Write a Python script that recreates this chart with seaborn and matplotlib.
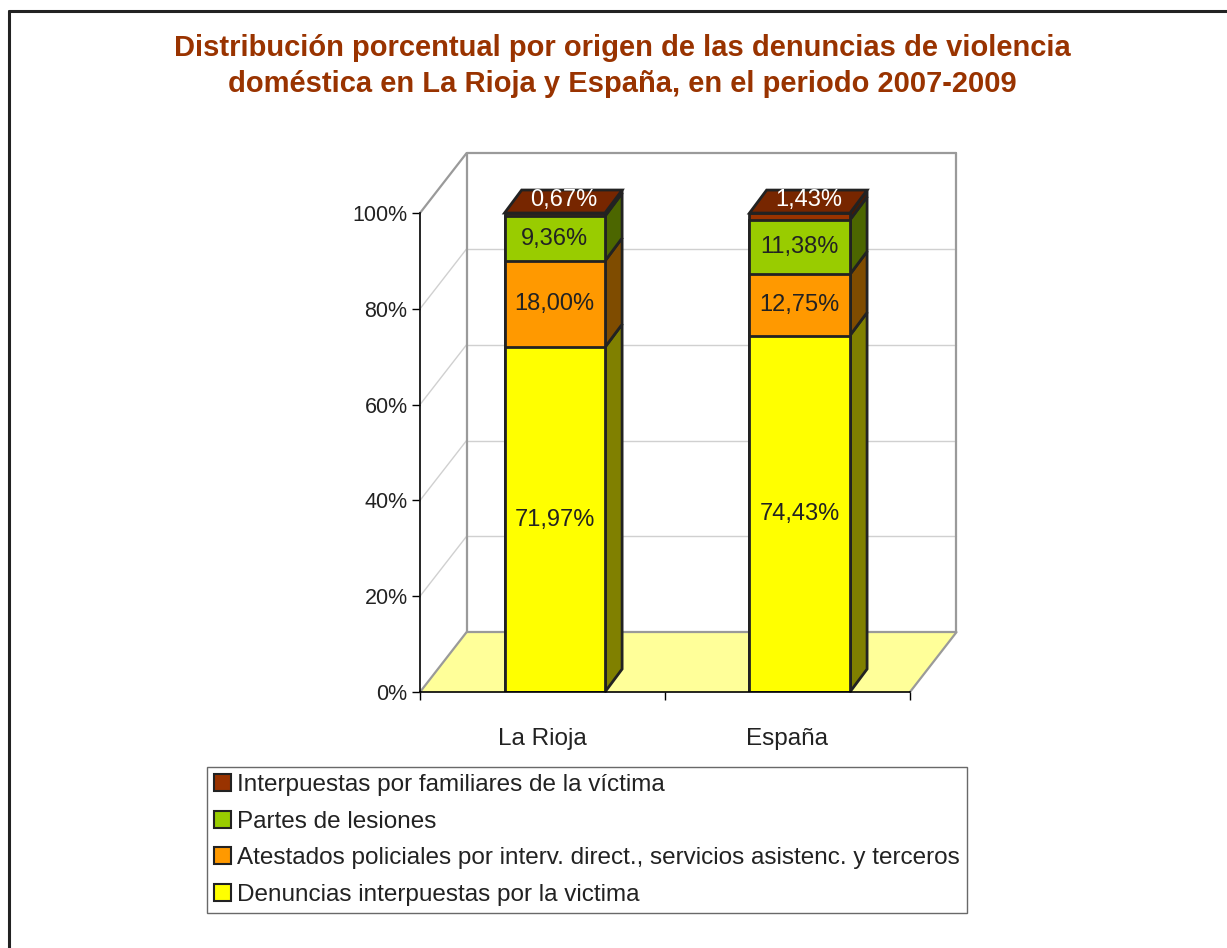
import matplotlib
matplotlib.use('Agg')
import matplotlib.pyplot as plt
from matplotlib.patches import Polygon, Patch
from matplotlib.lines import Line2D
import seaborn as sns
import pandas as pd

# Data
regions = ["La Rioja", "España"]
series_names = [
    "Denuncias interpuestas por la victima",
    "Atestados policiales por interv. direct., servicios asistenc. y terceros",
    "Partes de lesiones",
    "Interpuestas por familiares de la víctima",
]
victima = [71.97, 74.43]
atestados = [18.00, 12.75]
lesiones = [9.36, 11.38]
familiares = [0.67, 1.43]
y_ticks = [0, 20, 40, 60, 80, 100]

front_colors = ["#ffff00", "#ff9900", "#99cc00", "#993300"]
side_colors = ["#808000", "#7f4c00", "#4c6600", "#4c1a00"]
top_color = "#772600"
edge = "#222222"

BAR_W = 0.41
SHIFT = 0.05          # bars sit a little behind the front plane
# depth of the bars and of the walls, in data units
BX, BY = 0.07, 4.8
WX, WY = 0.19, 12.5

sns.set_style("white")
plt.rcParams['font.family'] = ['Liberation Sans', 'DejaVu Sans']

fig = plt.figure(figsize=(12.27, 9.48), dpi=100)
ax = fig.add_axes([0.3423, 0.2700, 0.3993, 0.5053])

stack = [victima, atestados, lesiones, familiares]
cum = []
running = [0.0] * len(regions)
for s in stack:
    running = [r + v for r, v in zip(running, s)]
    cum.append(running)

# stacked bars: draw the running totals from the tallest down
for k in reversed(range(len(stack))):
    df = pd.DataFrame({"region": regions, "value": cum[k]})
    sns.barplot(data=df, x="region", y="value", color=front_colors[k],
                saturation=1, width=BAR_W, edgecolor=edge, linewidth=2,
                ax=ax, zorder=3)
for p in ax.patches:
    p.set_x(p.get_x() + SHIFT)

ax.set_xlim(-0.5, 1.5)
ax.set_ylim(0, 100)

# pseudo 3D: side and top faces of the bars
for i in range(len(regions)):
    xr = i + SHIFT + BAR_W / 2
    xl = i + SHIFT - BAR_W / 2
    for k in range(len(stack)):
        b = cum[k - 1][i] if k > 0 else 0
        t = cum[k][i]
        ax.add_patch(Polygon([(xr, b), (xr, t), (xr + BX, t + BY), (xr + BX, b + BY)],
                             closed=True, facecolor=side_colors[k], edgecolor=edge,
                             lw=2, zorder=2.5, clip_on=False))
    T = cum[-1][i]
    ax.add_patch(Polygon([(xl, T), (xr, T), (xr + BX, T + BY), (xl + BX, T + BY)],
                         closed=True, facecolor=top_color, edgecolor=edge,
                         lw=2, zorder=3.5, clip_on=False))

# floor and walls
ax.add_patch(Polygon([(-0.5, 0), (1.5, 0), (1.5 + WX, WY), (-0.5 + WX, WY)],
                     closed=True, facecolor="#ffff99", edgecolor="none",
                     zorder=0.5, clip_on=False))
grey = "#9a9a9a"
light = "#d0d0d0"
for v in y_ticks[1:-1]:
    ax.plot([-0.5 + WX, 1.5 + WX], [v + WY, v + WY], color=light, lw=1, zorder=0.8, clip_on=False)
    ax.plot([-0.5, -0.5 + WX], [v, v + WY], color=light, lw=1, zorder=0.8, clip_on=False)
wall_lines = [
    ([-0.5, -0.5 + WX], [100, 100 + WY]),
    ([-0.5, -0.5 + WX], [0, WY]),
    ([-0.5 + WX, -0.5 + WX], [WY, 100 + WY]),
    ([-0.5 + WX, 1.5 + WX], [100 + WY, 100 + WY]),
    ([1.5 + WX, 1.5 + WX], [WY, 100 + WY]),
    ([-0.5 + WX, 1.5 + WX], [WY, WY]),
    ([1.5, 1.5 + WX], [0, WY]),
]
for xs, ys in wall_lines:
    ax.plot(xs, ys, color=grey, lw=1.6, zorder=0.9, clip_on=False)

# value labels
for i in range(len(regions)):
    for k in range(len(stack) - 1):
        b = cum[k - 1][i] if k > 0 else 0
        t = cum[k][i]
        ax.text(i + SHIFT, (b + t) / 2, f"{stack[k][i]:.2f}%".replace(".", ","),
                ha="center", va="center", fontsize=17, color="#222222", zorder=5)
    T = cum[-1][i]
    ax.text(i + SHIFT + BX / 2, T + BY / 2 + 0.3, f"{familiares[i]:.2f}%".replace(".", ","),
            ha="center", va="center", fontsize=17, color="white", zorder=5)

# axes styling
for side in ["top", "right"]:
    ax.spines[side].set_visible(False)
for side in ["left", "bottom"]:
    ax.spines[side].set_color("black")
    ax.spines[side].set_linewidth(1.2)
    ax.spines[side].set_zorder(4)
ax.set_yticks(y_ticks)
ax.set_yticklabels([f"{v}%" for v in y_ticks])
ax.tick_params(axis="y", direction="out", length=6, width=1, color="black",
               labelsize=15.5, pad=3, left=True, labelcolor="#222222")
ax.set_xticks([0, 1])
ax.set_xticklabels(regions)
ax.set_xticks([-0.5, 0.5, 1.5], minor=True)
ax.tick_params(axis="x", which="major", length=0, labelsize=17.5, pad=26,
               labelcolor="#222222")
ax.tick_params(axis="x", which="minor", direction="out", length=6, width=1,
               color="black", bottom=True)
ax.set_xlabel("")
ax.set_ylabel("")
ax.grid(False)

# legend
handles = [Patch(facecolor=front_colors[k], edgecolor=edge, linewidth=1.5, label=series_names[k])
           for k in reversed(range(len(stack)))]
leg = fig.legend(handles=handles, loc="upper left",
                 bbox_to_anchor=(207 / 1227, 1 - 767 / 948),
                 fontsize=17.5, frameon=True, fancybox=False, borderaxespad=0,
                 handlelength=0.7, handleheight=0.7, handletextpad=0.25,
                 labelspacing=0.6, borderpad=0.3, labelcolor="#222222")
leg.get_frame().set_edgecolor("#444444")
leg.get_frame().set_linewidth(1)

# title
fig.text(622 / 1227, 1 - 66 / 948,
         "Distribución porcentual por origen de las denuncias de violencia\n"
         "doméstica en La Rioja y España, en el periodo 2007-2009",
         ha="center", va="center", fontsize=21, fontweight="bold",
         color="#993300", linespacing=1.4)

# outer frame (left and top edges visible)
fig.add_artist(Line2D([9 / 1227, 9 / 1227], [0, 1 - 11 / 948], color="#222222", lw=2.2,
                      transform=fig.transFigure))
fig.add_artist(Line2D([9 / 1227, 1], [1 - 11 / 948, 1 - 11 / 948], color="#222222", lw=2.2,
                      transform=fig.transFigure))

fig.savefig("out.png", dpi=100, facecolor="white")
plt.close(fig)
